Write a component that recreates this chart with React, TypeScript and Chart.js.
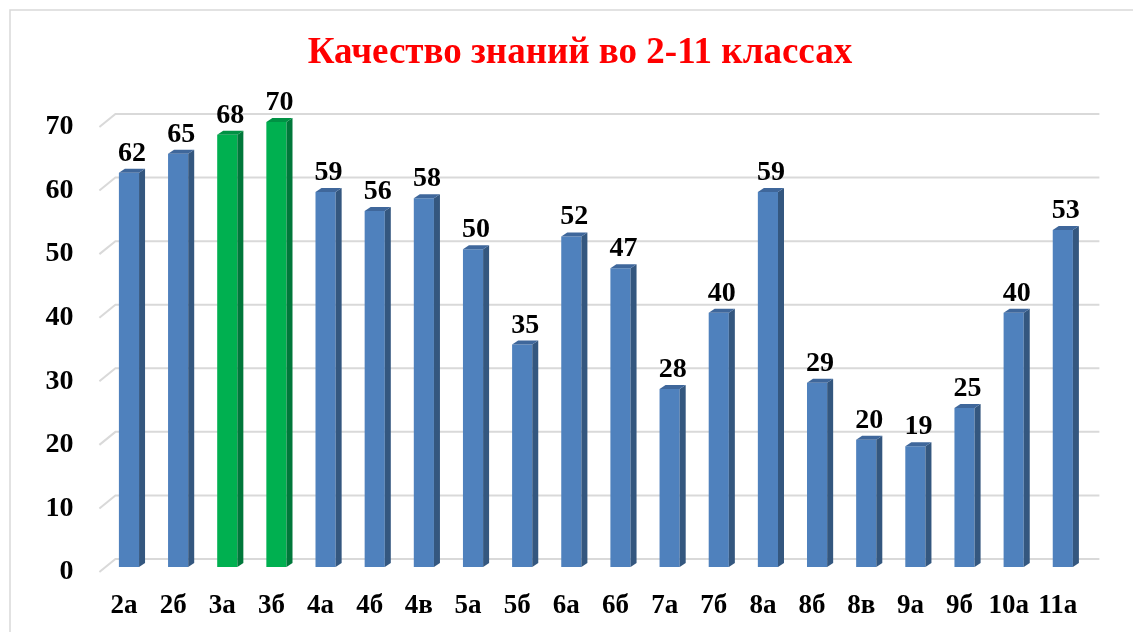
import React, { useEffect, useRef } from "react";
import { Chart, registerables } from "chart.js";

Chart.register(...registerables);

const TITLE = "Качество знаний во 2-11 классах";
const categories = ["2а", "2б", "3а", "3б", "4а", "4б", "4в", "5а", "5б", "6а", "6б", "7а", "7б", "8а", "8б", "8в", "9а", "9б", "10а", "11а"];
const values = [62, 65, 68, 70, 59, 56, 58, 50, 35, 52, 47, 28, 40, 59, 29, 20, 19, 25, 40, 53];
const highlighted = ["3а", "3б"];
const yTicks = [0, 10, 20, 30, 40, 50, 60, 70];

const FONT = "'Times New Roman', 'Liberation Serif', serif";
const BLUE = { front: "#4F81BD", side: "#34577F", top: "#3F679B" };
const GREEN = { front: "#00B050", side: "#00783A", top: "#009244" };
const DX = 6;
const DY = 4;

const framePlugin = {
  id: "frame",
  beforeDraw(chart: any) {
    const ctx = chart.ctx;
    ctx.save();
    ctx.fillStyle = "#FFFFFF";
    ctx.fillRect(0, 0, chart.width, chart.height);
    ctx.strokeStyle = "#D9D9D9";
    ctx.lineWidth = 1.5;
    ctx.strokeRect(10, 10, chart.width + 50, chart.height + 50);
    ctx.fillStyle = "#FF0000";
    ctx.font = `bold 37px ${FONT}`;
    ctx.textAlign = "center";
    ctx.textBaseline = "alphabetic";
    ctx.fillText(TITLE, 580, 63);
    ctx.restore();
  },
  beforeDatasetsDraw(chart: any) {
    const ctx = chart.ctx;
    const ys = chart.scales.y;
    const area = chart.chartArea;
    ctx.save();
    ctx.strokeStyle = "#D9D9D9";
    ctx.lineWidth = 2;
    ys.ticks.forEach((t: any) => {
      const yb = ys.getPixelForValue(t.value);
      ctx.beginPath();
      ctx.moveTo(area.left - 5, yb + 5);
      ctx.lineTo(area.left + 11, yb - 8);
      ctx.lineTo(area.right + 12, yb - 8);
      ctx.stroke();
    });
    ctx.restore();
  },
  afterDatasetsDraw(chart: any) {
    const ctx = chart.ctx;
    const meta = chart.getDatasetMeta(0);
    ctx.save();
    meta.data.forEach((bar: any, i: number) => {
      const pal = highlighted.includes(categories[i]) ? GREEN : BLUE;
      const w = bar.width;
      const x0 = bar.x - w / 2;
      const x1 = bar.x + w / 2;
      const yt = bar.y;
      const yb = bar.base;
      ctx.fillStyle = pal.side;
      ctx.beginPath();
      ctx.moveTo(x1, yt);
      ctx.lineTo(x1 + DX, yt - DY);
      ctx.lineTo(x1 + DX, yb - DY);
      ctx.lineTo(x1, yb);
      ctx.closePath();
      ctx.fill();
      ctx.fillStyle = pal.top;
      ctx.beginPath();
      ctx.moveTo(x0, yt);
      ctx.lineTo(x0 + DX, yt - DY);
      ctx.lineTo(x1 + DX, yt - DY);
      ctx.lineTo(x1, yt);
      ctx.closePath();
      ctx.fill();
      ctx.fillStyle = "#000000";
      ctx.font = `bold 28px ${FONT}`;
      ctx.textAlign = "center";
      ctx.textBaseline = "alphabetic";
      ctx.fillText(String(values[i]), bar.x + 3, yt - 12);
    });
    ctx.restore();
  },
};

export default function App() {
  const ref = useRef<HTMLCanvasElement | null>(null);
  useEffect(() => {
    if (!ref.current) return;
    const chart = new Chart(ref.current, {
      type: "bar",
      data: {
        labels: categories,
        datasets: [
          {
            data: values,
            backgroundColor: categories.map((c) => (highlighted.includes(c) ? GREEN.front : BLUE.front)),
            borderWidth: 0,
            barPercentage: 0.41,
            categoryPercentage: 1,
          },
        ],
      },
      options: {
        responsive: false,
        animation: false,
        layout: { padding: { left: 0, right: 45.6, top: 122, bottom: 0 } },
        plugins: {
          legend: { display: false },
          tooltip: { enabled: false },
          title: { display: false },
        },
        scales: {
          x: {
            grid: { display: false, drawTicks: false },
            border: { display: false },
            ticks: {
              color: "#000000",
              font: { family: FONT, size: 27, weight: "bold" },
              padding: 23,
              labelOffset: -5,
              maxRotation: 0,
              autoSkip: false,
            },
            afterFit: (s: any) => {
              s.height = 65;
            },
          },
          y: {
            min: 0,
            max: 70,
            afterBuildTicks: (s: any) => {
              s.ticks = yTicks.map((v) => ({ value: v }));
            },
            grid: { display: false, drawTicks: false },
            border: { display: false },
            ticks: {
              color: "#000000",
              font: { family: FONT, size: 28, weight: "bold" },
              padding: 31,
              labelOffset: 5,
            },
            afterFit: (s: any) => {
              s.width = 104.4;
            },
          },
        },
      },
      plugins: [framePlugin],
    });
    return () => chart.destroy();
  }, []);
  return (
    <canvas
      ref={ref}
      width={1133}
      height={632}
      style={{ position: "fixed", left: 0, top: 0, display: "block" }}
    />
  );
}
